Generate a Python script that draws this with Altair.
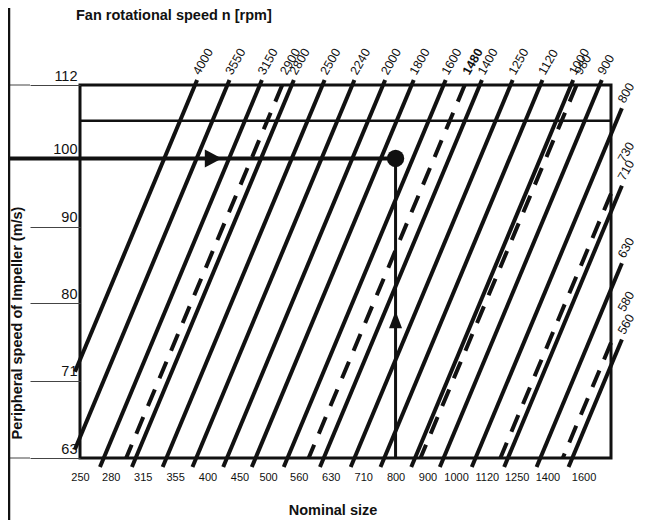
import math
import altair as alt
import pandas as pd

# ---------------- data ----------------
NOMINAL_SIZES = [250, 280, 315, 355, 400, 450, 500, 560, 630, 710, 800, 900,
                 1000, 1120, 1250, 1400, 1600]
SPEED_TICKS = [63, 71, 80, 90, 100, 112]
RPM_SOLID = [4000, 3550, 3150, 2800, 2500, 2240, 2000, 1800, 1600, 1400, 1250,
             1120, 1000, 900, 800, 710, 630, 560]
RPM_DASHED = [2900, 1480, 980, 730, 580]
RPM_BOLD = [1480]
SPEED_FACTOR = 7.33e-5          # u [m/s] = SPEED_FACTOR * n [rpm] * nominal size
SIZE_RANGE = [250, 1770]
SPEED_RANGE = [63, 112]
SPEED_LIMIT = 106
EXAMPLE_SIZE = 800
EXAMPLE_SPEED = 100
ARROW_RIGHT_AT_SIZE = 408
ARROW_UP_AT_SPEED = 78
EDGE_SPEEDS = [112, 63]

TITLE_TOP = "Fan rotational speed n [rpm]"
TITLE_X = "Nominal size"
TITLE_Y = "Peripheral speed of Impeller (m/s)"

# ---------------- layout / style ----------------
W, H = 531, 373
PAD = {"left": 72, "top": 77, "right": 30, "bottom": 62}
FONT = "Liberation Sans"
INK = "#111111"

lg = math.log10
a0, a1 = lg(SIZE_RANGE[0]), lg(SIZE_RANGE[1])
b0, b1 = lg(SPEED_RANGE[0]), lg(SPEED_RANGE[1])
px_y = H / (b1 - b0)
OVER = {"top": 5 / px_y, "bottom": 9 / px_y, "left": 12 / px_y, "right": 26 / px_y}


def segment(n, overhang=True):
    k = lg(SPEED_FACTOR * n)
    lo, lo_edge = b0 - k, "bottom"
    if lo < a0:
        lo, lo_edge = a0, "left"
    hi, hi_edge = b1 - k, "top"
    if hi > a1:
        hi, hi_edge = a1, "right"
    if overhang:
        lo -= OVER[lo_edge]
        hi += OVER[hi_edge]
    return lo, hi, k


rows, lab = [], []
for n in RPM_SOLID + RPM_DASHED:
    dashed = n in RPM_DASHED
    lo, hi, k = segment(n, overhang=not dashed)
    rows.append(dict(n=n, style="dashed" if dashed else "solid",
                     size_lo=10 ** lo, speed_lo=10 ** (lo + k),
                     size_hi=10 ** hi, speed_hi=10 ** (hi + k)))
    lo2, hi2, k2 = segment(n, overhang=True)
    lab.append(dict(label=str(n), size=10 ** hi2, speed=10 ** (hi2 + k2),
                    bold=n in RPM_BOLD))
lines = pd.DataFrame(rows)
labels = pd.DataFrame(lab)

xs = alt.Scale(type="log", domain=SIZE_RANGE, nice=False)
ys = alt.Scale(type="log", domain=SPEED_RANGE, nice=False)

XA = alt.Axis(values=NOMINAL_SIZES, labelExpr="format(datum.value, 'd')",
              title=TITLE_X, domain=False, ticks=False, grid=False,
              labelFontSize=11, labelPadding=13, labelFlush=False,
              labelOverlap=False, labelFont=FONT, labelColor=INK,
              titleFont=FONT, titleColor=INK, titleFontSize=14.5,
              titleFontWeight="bold", titleX=252.5, titleY=52,
              titleAlign="center", titleBaseline="middle")
YA = alt.Axis(values=SPEED_TICKS, labelExpr="format(datum.value, 'd')",
              title=TITLE_Y, domain=False, ticks=True, tickSize=50,
              tickWidth=1, tickColor="#444444", grid=False,
              labelFontSize=14.5, labelPadding=-47, labelAlign="right",
              labelBaseline="alphabetic", labelOffset=-5, labelFlush=False,
              labelOverlap=False, labelFont=FONT, labelColor=INK,
              titleFont=FONT, titleColor=INK, titleFontSize=14.5,
              titleFontWeight="bold", titleX=-63, titleY=237.5,
              titleAngle=270, titleAlign="center", titleBaseline="middle")


def X(f):
    return alt.X(f, scale=xs, axis=XA)


def Y(f):
    return alt.Y(f, scale=ys, axis=YA)


base = alt.Chart(lines)
solid = base.transform_filter(alt.datum.style == "solid").mark_rule(
    color=INK, strokeWidth=4, strokeCap="butt").encode(
    x=X("size_lo:Q"), y=Y("speed_lo:Q"), x2="size_hi:Q", y2="speed_hi:Q")
dashed = base.transform_filter(alt.datum.style == "dashed").mark_rule(
    color=INK, strokeWidth=4, strokeCap="butt", strokeDash=[18, 12]).encode(
    x=X("size_hi:Q"), y=Y("speed_hi:Q"), x2="size_lo:Q", y2="speed_lo:Q")

limit = alt.Chart(pd.DataFrame({"speed": [SPEED_LIMIT], "s0": [SIZE_RANGE[0]],
                                "s1": [SIZE_RANGE[1]]})).mark_rule(
    color=INK, strokeWidth=2.5).encode(x=X("s0:Q"), x2="s1:Q", y=Y("speed:Q"))

ex = pd.DataFrame({"s0": [SIZE_RANGE[0]], "s": [EXAMPLE_SIZE],
                   "u": [EXAMPLE_SPEED], "u0": [SPEED_RANGE[0]]})
ex_h = alt.Chart(ex).mark_rule(color=INK, strokeWidth=4).encode(
    x=X("s0:Q"), x2="s:Q", y=Y("u:Q"))
ex_h_left = alt.Chart(ex).mark_rule(color=INK, strokeWidth=4).encode(
    x=alt.value(-72), x2=alt.value(0), y=Y("u:Q"))
ex_v = alt.Chart(ex).mark_rule(color=INK, strokeWidth=3).encode(
    x=X("s:Q"), y=Y("u:Q"), y2="u0:Q")
dot = alt.Chart(ex).mark_point(shape="circle", filled=True, size=300,
                               color=INK, opacity=1).encode(
    x=X("s:Q"), y=Y("u:Q"))

arr = pd.DataFrame({"s_r": [ARROW_RIGHT_AT_SIZE], "u_r": [EXAMPLE_SPEED],
                    "s_u": [EXAMPLE_SIZE], "u_u": [ARROW_UP_AT_SPEED]})
arrow_r = alt.Chart(arr).mark_point(shape="M1,0L-0.9,-1L-0.9,1Z", filled=True,
                                    size=320, color=INK, opacity=1).encode(
    x=X("s_r:Q"), y=Y("u_r:Q"))
arrow_u = alt.Chart(arr).mark_point(shape="M0,-1L0.75,1L-0.75,1Z", filled=True,
                                    size=300, color=INK, opacity=1).encode(
    x=X("s_u:Q"), y=Y("u_u:Q"))

edges = alt.Chart(pd.DataFrame({"u": EDGE_SPEEDS})).mark_rule(
    color="#444444", strokeWidth=1).encode(
    x=alt.value(-72), x2=alt.value(-50), y=Y("u:Q"))

frag = alt.Chart(pd.DataFrame({"k": [0]})).mark_rule(
    color=INK, strokeWidth=2.5).encode(
    x=alt.value(-71), y=alt.value(-77), y2=alt.value(H + 62))

rpm_plain = alt.Chart(labels).transform_filter(~alt.datum.bold).mark_text(
    angle=300, align="left", baseline="alphabetic", dx=5, dy=0,
    fontSize=12.5, font=FONT, color=INK).encode(
    x=X("size:Q"), y=Y("speed:Q"), text="label:N")
rpm_bold = alt.Chart(labels).transform_filter(alt.datum.bold).mark_text(
    angle=300, align="left", baseline="alphabetic", dx=5, dy=0,
    fontSize=12.5, font=FONT, color=INK, fontWeight="bold").encode(
    x=X("size:Q"), y=Y("speed:Q"), text="label:N")

top_title = alt.Chart(pd.DataFrame({"t": [TITLE_TOP]})).mark_text(
    align="left", baseline="middle", fontSize=14.5, fontWeight="bold",
    font=FONT, color=INK).encode(x=alt.value(-4), y=alt.value(-69), text="t:N")

chart = alt.layer(
    solid, dashed, limit, edges, ex_h_left, ex_h, ex_v, dot, arrow_r, arrow_u,
    rpm_plain, rpm_bold, top_title, frag
).properties(
    width=W, height=H, padding=PAD,
    autosize=alt.AutoSizeParams(type="none"),
    background="white",
).configure_view(stroke=INK, strokeWidth=3)

chart.save("out.html", embed_options={"renderer": "svg", "actions": False})
